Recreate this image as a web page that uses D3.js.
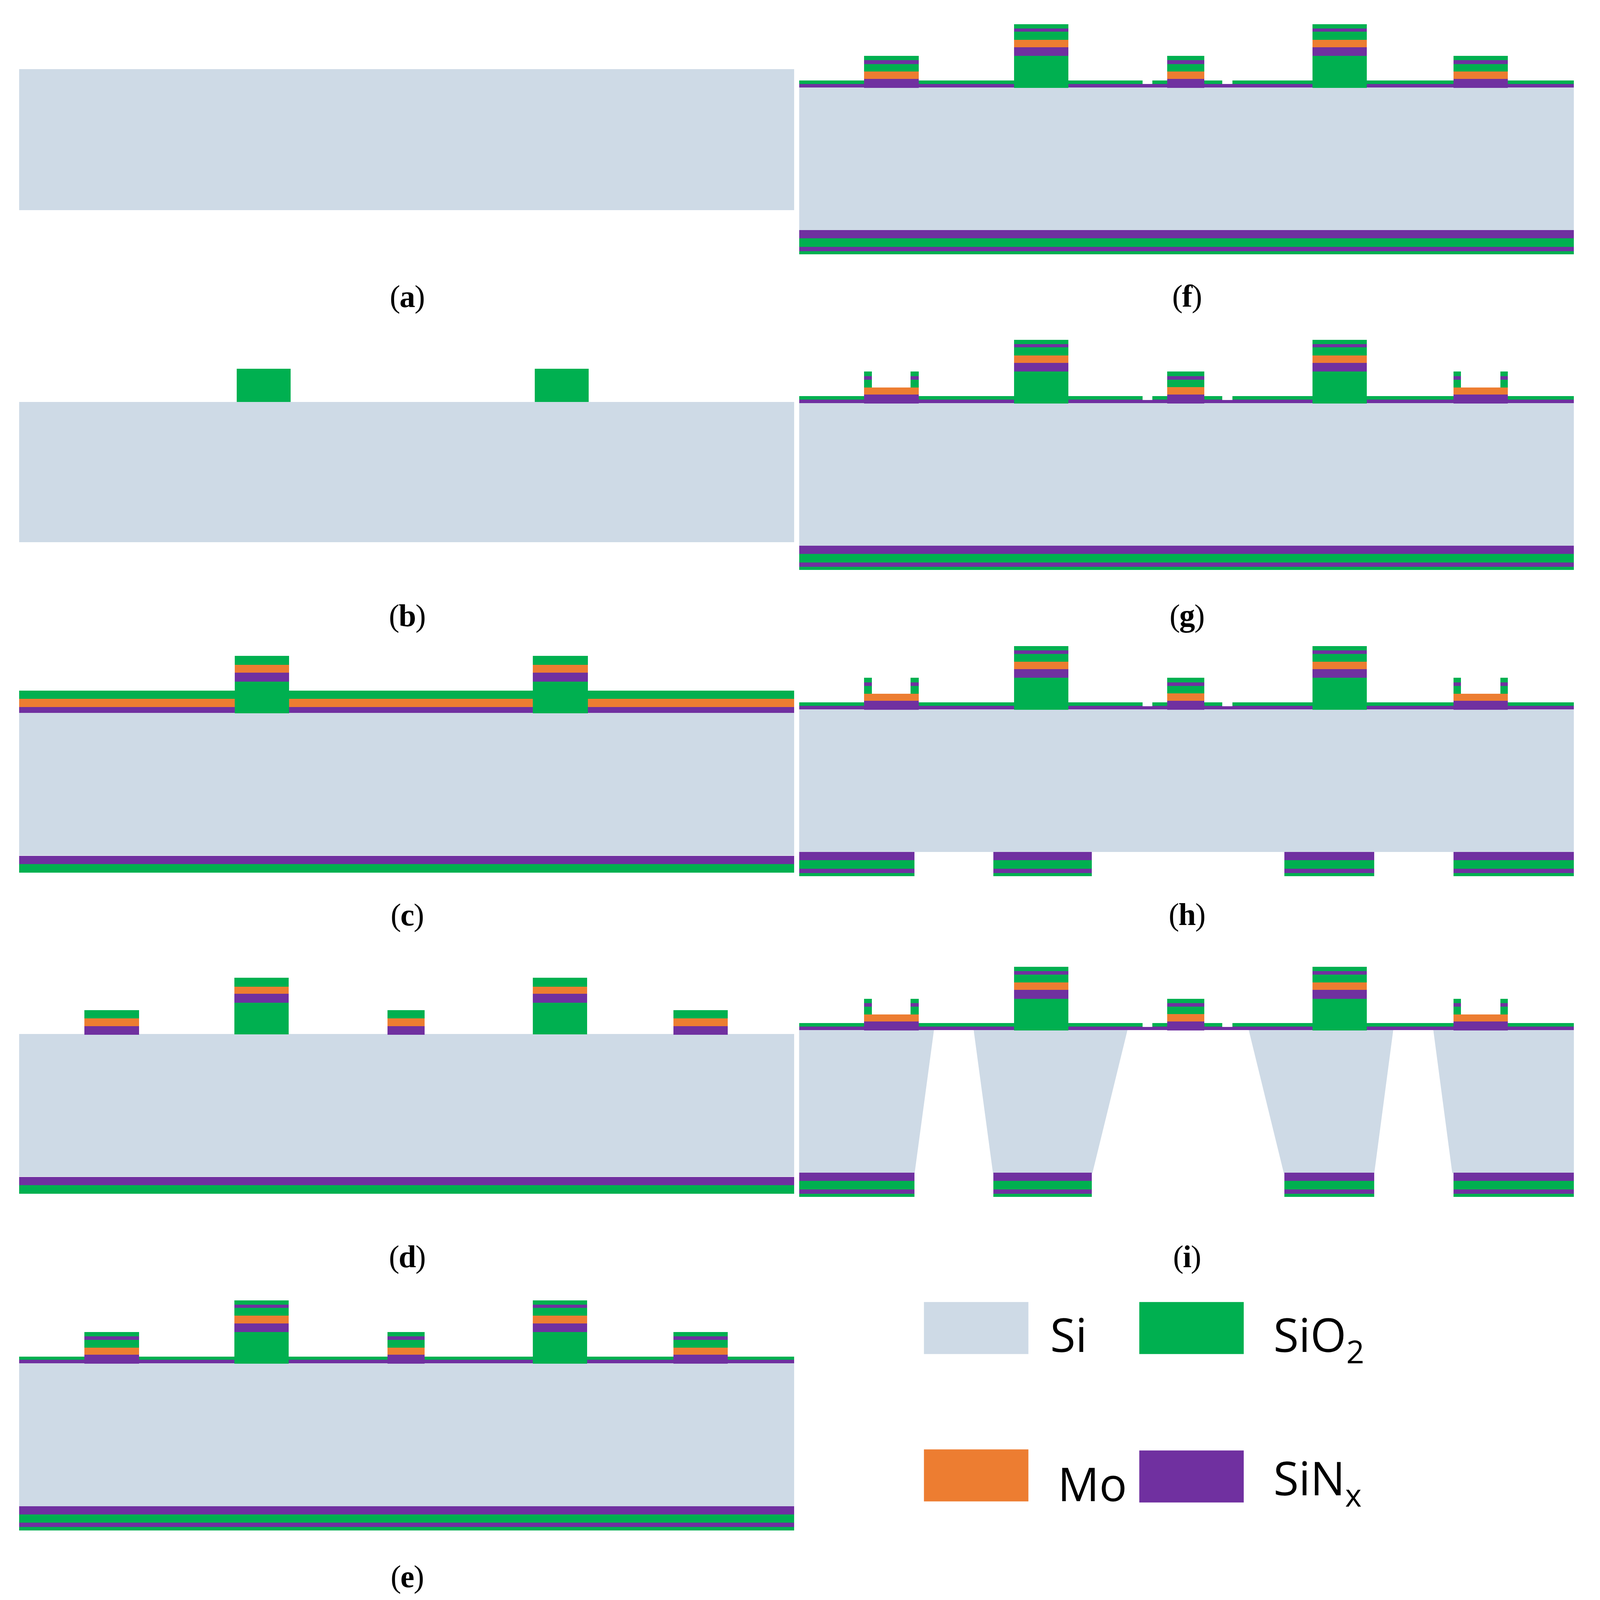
<!DOCTYPE html>
<html>
<head>
  <meta charset="UTF-8">
  <title>Process flow cross sections</title>
  <script src="https://d3js.org/d3.v7.min.js"></script>
  <style>
    html, body { margin: 0; padding: 0; background: white; width: 100%; height: 100%; overflow: hidden; }
    svg { display: block; width: 100vw; height: 100vh; }
  </style>
</head>
<body>
  <svg id="chart" viewBox="0 0 4473 4430" preserveAspectRatio="none"></svg>

  <script>
    // materials
    var materials = ["Si", "SiO2", "Mo", "SiNx"];
    var materialColors = ["#CEDAE6", "#00B050", "#ED7D31", "#7030A0"];

    // lateral spans along the wafer
    var fullWafer = [[0, 2166]];
    var blocksB = [[608, 759], [1441, 1592]];
    var centresC = [[602, 754], [1435, 1589]];
    var centres = [[601, 753], [1435, 1587]];
    var outerIslands = [[182, 335], [1829, 1981]];
    var middleIsland = [[1029, 1133]];
    var allIslands = [[182, 335], [1029, 1133], [1829, 1981]];
    var frontOpen = [[0, 960], [987, 1183], [1211, 2166]];
    var frontGaps = [[960, 987], [1183, 1211]];
    var posts = [[182, 203], [312, 335], [1829, 1850], [1960, 1981]];
    var backPads = [[0, 322], [543, 818], [1357, 1608], [1829, 2166]];

    // layers as [material, top depth, bottom depth], 0 is the Si front surface
    var siWafer = [["Si", 0, 395]];
    var siWaferA = [["Si", 0, 391]];
    var siWaferB = [["Si", 0, 388]];
    var blockB = [["SiO2", -92, 0]];
    var filmsC = [["SiO2", -62, -39], ["Mo", -39, -16], ["SiNx", -16, 0]];
    var stackC = [["SiO2", -158, -133], ["Mo", -133, -112], ["SiNx", -112, -87], ["SiO2", -87, 1]];
    var backC = [["SiNx", 396, 418], ["SiO2", 418, 442]];
    var centreD = [["SiO2", -156, -131], ["Mo", -131, -112], ["SiNx", -112, -87], ["SiO2", -87, 1]];
    var islandD = [["SiO2", -66, -43], ["Mo", -43, -22], ["SiNx", -22, 2]];
    var filmsE = [["SiO2", -19, -10], ["SiNx", -10, 0]];
    var filmsGap = [["SiNx", -9, 0]];
    var centreE = [["SiO2", -175, -163], ["SiNx", -163, -154], ["SiO2", -154, -132], ["Mo", -132, -111], ["SiNx", -111, -87], ["SiO2", -87, 1]];
    var islandE = [["SiO2", -87, -75], ["SiNx", -75, -65], ["SiO2", -65, -44], ["Mo", -44, -24], ["SiNx", -24, 1]];
    var postLayers = [["SiO2", -87, -75], ["SiNx", -75, -65], ["SiO2", -65, -43]];
    var islandBase = [["Mo", -43, -24], ["SiNx", -24, 1]];
    var backE = [["SiNx", 395, 418], ["SiO2", 418, 441], ["SiNx", 441, 453], ["SiO2", 453, 462]];

    // etched silicon of panel (i), each wall as [x, depth]
    var siWalls = [
      [[0, 0], [377, 0], [323, 396], [0, 396]],
      [[488, 0], [918, 0], [820, 396], [542, 396]],
      [[1257, 0], [1661, 0], [1608, 396], [1355, 396]],
      [[1773, 0], [2166, 0], [2166, 396], [1826, 396]]
    ];

    // what each panel is made of, [spans, layers], bottom of the list on top
    var etched = [[frontOpen, filmsE], [frontGaps, filmsGap], [centres, centreE], [middleIsland, islandE], [posts, postLayers], [outerIslands, islandBase]];
    var panelParts = [
      [[fullWafer, siWaferA]],
      [[fullWafer, siWaferB], [blocksB, blockB]],
      [[fullWafer, siWafer], [fullWafer, filmsC], [centresC, stackC], [fullWafer, backC]],
      [[fullWafer, siWafer], [centres, centreD], [allIslands, islandD], [fullWafer, backC]],
      [[fullWafer, siWafer], [fullWafer, filmsE], [centres, centreE], [allIslands, islandE], [fullWafer, backE]],
      [[fullWafer, siWafer], [frontOpen, filmsE], [frontGaps, filmsGap], [centres, centreE], [allIslands, islandE], [fullWafer, backE]],
      [[fullWafer, siWafer]].concat(etched, [[fullWafer, backE]]),
      [[fullWafer, siWafer]].concat(etched, [[backPads, backE]]),
      etched.concat([[backPads, backE]])
    ];

    var captions = ["a", "b", "c", "d", "e", "f", "g", "h", "i"];
    var legendNames = ["Si", "SiO", "Mo", "SiN"];
    var legendSubs = ["", "2", "", "x"];

    // page layout
    var panelLeft = [54, 54, 54, 54, 54, 2234, 2234, 2234, 2234];
    var panelSurface = [191, 1113, 1974, 2863, 3775, 242, 1116, 1964, 2852];
    var captionX = [1138, 1138, 1138, 1138, 1138, 3318, 3318, 3318, 3318];
    var captionY = [850, 1734, 2562, 3509, 4394, 849, 1734, 2561, 3509];
    var legendBoxX = [2583, 3185, 2583, 3185];
    var legendBoxY = [3605, 3605, 4013, 4016];
    var legendTextX = [2936, 3560, 2957, 3560];
    var legendTextY = [3743, 3743, 4156, 4140];

    var color = d3.scaleOrdinal(materials, materialColors);
    var svg = d3.select("#chart");
    svg.append("rect").attr("width", 4473).attr("height", 4430).attr("fill", "white");

    captions.forEach(function (caption, p) {
      var x = d3.scaleLinear().domain([0, 2166]).range([panelLeft[p], panelLeft[p] + 2166]);
      var y = d3.scaleLinear().domain([0, 395]).range([panelSurface[p], panelSurface[p] + 395]);
      var panel = svg.append("g").attr("class", "panel-" + caption);

      if (caption === "i") {
        var wall = d3.line().x(function (d) { return x(d[0]); }).y(function (d) { return y(d[1]); });
        panel.selectAll("path").data(siWalls).join("path")
          .attr("d", function (d) { return wall(d) + "Z"; })
          .attr("fill", color("Si"));
      }

      // flatten the spans and layers of this panel into one list of rectangles
      var cells = [];
      panelParts[p].forEach(function (part) {
        part[0].forEach(function (span) {
          part[1].forEach(function (layer) {
            cells.push({ x0: span[0], x1: span[1], material: layer[0], top: layer[1], bottom: layer[2] });
          });
        });
      });

      panel.selectAll("rect").data(cells).join("rect")
        .attr("x", function (d) { return x(d.x0); })
        .attr("width", function (d) { return x(d.x1) - x(d.x0); })
        .attr("y", function (d) { return y(d.top); })
        .attr("height", function (d) { return y(d.bottom) - y(d.top); })
        .attr("fill", function (d) { return color(d.material); })
        .attr("shape-rendering", "crispEdges");

      var label = svg.append("text")
        .attr("x", captionX[p])
        .attr("y", captionY[p])
        .attr("text-anchor", "middle")
        .attr("font-family", "'Liberation Serif', serif")
        .attr("font-size", 88)
        .attr("letter-spacing", -2)
        .attr("fill", "black");
      label.append("tspan").text("(");
      label.append("tspan").attr("font-weight", "bold").text(caption);
      label.append("tspan").text(")");
    });

    // legend
    materials.forEach(function (m, i) {
      svg.append("rect")
        .attr("x", legendBoxX[i]).attr("y", legendBoxY[i])
        .attr("width", 292).attr("height", 144)
        .attr("fill", color(m));

      var t = svg.append("text")
        .attr("x", legendTextX[i]).attr("y", legendTextY[i])
        .attr("font-family", "'Open Sans', sans-serif")
        .attr("font-size", 129)
        .attr("fill", "black");
      t.append("tspan").text(legendNames[i]);
      if (legendSubs[i]) {
        t.append("tspan").attr("font-size", 88).attr("dy", 32).text(legendSubs[i]);
      }
    });
  </script>
</body>
</html>
